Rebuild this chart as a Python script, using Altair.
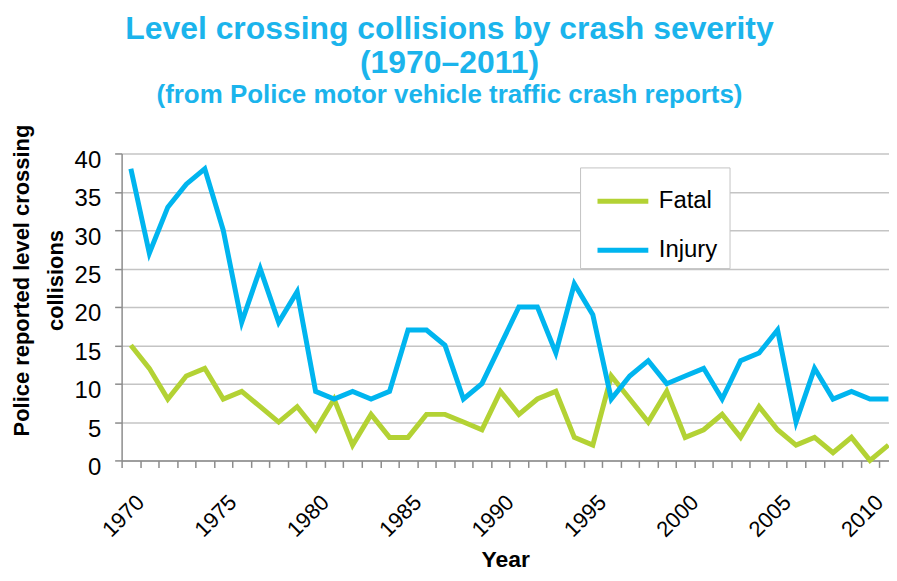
import altair as alt
import pandas as pd

years = list(range(1970, 2012))
fatal = [15, 12, 8, 11, 12, 8, 9, 7, 5, 7,
         4, 8, 2, 6, 3, 3, 6, 6, 5, 4,
         9, 6, 8, 9, 3, 2, 11, 8, 5, 9,
         3, 4, 6, 3, 7, 4, 2, 3, 1, 3, 0, 2]
injury = [38, 27, 33, 36, 38, 30, 18, 25, 18, 22,
          9, 8, 9, 8, 9, 17, 17, 15, 8, 10,
          15, 20, 20, 14, 23, 19, 8, 11, 13, 10,
          11, 12, 8, 13, 14, 17, 5, 12, 8, 9, 8, 8]
series = ["Fatal", "Injury"]
colors = ["#B3D234", "#00B5EF"]
y_ticks = list(range(0, 41, 5))
x_tick_positions = [y + 0.5 for y in range(1969, 2011)]

rows = []
for name, vals in zip(series, [fatal, injury]):
    for yr, v in zip(years, vals):
        rows.append({"year": yr, "severity": name, "count": v})
df = pd.DataFrame(rows)

FONT = "Liberation Sans, Arial, sans-serif"
TITLE_COLOR = "#1BB4EC"
AXIS_GREY = "#8C8C8C"

chart = alt.Chart(df).mark_line(strokeWidth=5).encode(
    x=alt.X(
        "year:Q",
        scale=alt.Scale(domain=[1969.5, 2011.03], nice=False, zero=False),
        axis=alt.Axis(
            values=x_tick_positions,
            labelExpr="(datum.value - 0.5) % 5 == 0 ? format(datum.value - 0.5, 'd') : ''",
            labelAngle=315,
            labelAlign="right",
            labelBaseline="top",
            labelPadding=24,
            labelOffset=-7,
            labelFontSize=22,
            labelFont=FONT,
            labelColor="black",
            labelOverlap=False,
            labelFlush=False,
            labelBound=False,
            tickSize=7,
            tickColor=AXIS_GREY,
            tickWidth=1.5,
            domainColor=AXIS_GREY,
            domainWidth=1.5,
            grid=False,
            title="Year",
            titleFont=FONT,
            titleFontSize=23,
            titleFontWeight="bold",
            titleColor="black",
            titleBaseline="alphabetic",
            titleY=106,
        ),
    ),
    y=alt.Y(
        "count:Q",
        scale=alt.Scale(domain=[0, 40], nice=False),
        axis=alt.Axis(
            values=y_ticks,
            labelFontSize=24,
            labelFont=FONT,
            labelColor="black",
            labelPadding=14,
            labelOffset=7,
            tickSize=7,
            tickColor=AXIS_GREY,
            tickWidth=1.5,
            domainColor=AXIS_GREY,
            domainWidth=1.5,
            grid=True,
            gridColor="#C4C4C4",
            gridWidth=1.5,
            title=["Police reported  level crossing", "collisions"],
            titleFont=FONT,
            titleFontSize=22,
            titleFontWeight="bold",
            titleColor="black",
            titleAngle=270,
            titleAlign="center",
            titleBaseline="alphabetic",
            titleX=-93,
            titleY=127,
            titleLineHeight=34,
        ),
    ),
    color=alt.Color(
        "severity:N",
        scale=alt.Scale(domain=series, range=colors),
        legend=alt.Legend(
            title=" ",
            titleOrient="right",
            titlePadding=6,
            titleFontSize=24,
            orient="none",
            legendX=460,
            legendY=14,
            direction="vertical",
            symbolType="stroke",
            symbolSize=2600,
            symbolStrokeWidth=5,
            symbolOffset=9,
            labelFontSize=24,
            labelFont=FONT,
            labelColor="black",
            labelOffset=8,
            strokeColor="#C4C4C4",
            fillColor="white",
            padding=6,
            rowPadding=9,
        ),
    ),
).properties(
    width=770,
    height=308,
    autosize=alt.AutoSizeParams(type="none"),
    padding={"left": 114, "top": 145, "right": 0, "bottom": 112},
    title=alt.TitleParams(
        text=["Level crossing collisions by crash severity", "(1970–2011)"],
        subtitle=["(from Police motor vehicle traffic crash reports)"],
        font=FONT,
        fontSize=32,
        fontWeight="bold",
        color=TITLE_COLOR,
        lineHeight=34,
        subtitleFont=FONT,
        subtitleFontSize=26,
        subtitleFontWeight="bold",
        subtitleColor=TITLE_COLOR,
        subtitlePadding=2,
        anchor="middle",
        dx=-56,
        offset=12,
    ),
).configure_view(stroke="transparent")

chart.save("out.html", embed_options={"renderer": "svg", "actions": False})
